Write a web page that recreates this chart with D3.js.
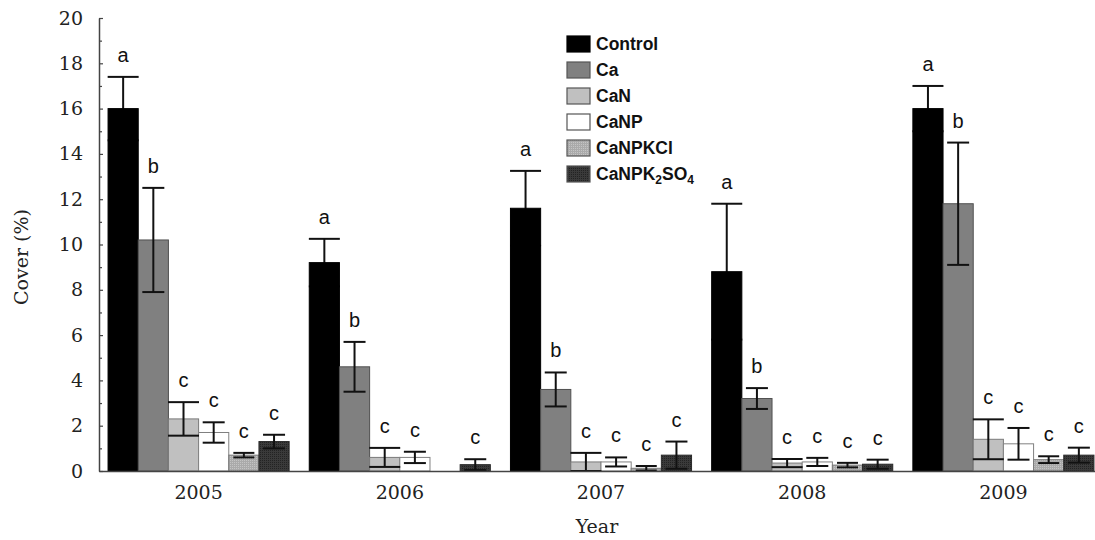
<!DOCTYPE html>
<html>
<head>
<meta charset="utf-8">
<script src="https://cdn.jsdelivr.net/npm/d3@7"></script>
<style>
  body { margin: 0; background: #fff; }
</style>
</head>
<body>
<svg width="1095" height="540"></svg>
<script>
const years = ['2005', '2006', '2007', '2008', '2009'];
const treatments = ['Control', 'Ca', 'CaN', 'CaNP', 'CaNPKCl', 'CaNPK2SO4'];

// mean cover (%) per treatment, one value per year
const control   = [16.0, 9.2, 11.6, 8.8, 16.0];
const ca        = [10.2, 4.6, 3.6, 3.2, 11.8];
const caN       = [2.3, 0.6, 0.4, 0.35, 1.4];
const caNP      = [1.7, 0.6, 0.4, 0.4, 1.2];
const caNPKCl   = [0.7, 0, 0.12, 0.26, 0.5];
const caNPK2SO4 = [1.3, 0.28, 0.7, 0.3, 0.7];

// standard errors
const errControl   = [1.4, 1.05, 1.65, 3.0, 1.0];
const errCa        = [2.3, 1.1, 0.75, 0.46, 2.7];
const errCaN       = [0.74, 0.42, 0.4, 0.18, 0.88];
const errCaNP      = [0.45, 0.25, 0.2, 0.18, 0.7];
const errCaNPKCl   = [0.1, 0, 0.1, 0.1, 0.15];
const errCaNPK2SO4 = [0.3, 0.24, 0.6, 0.2, 0.33];

// significance letters
const letControl   = ['a', 'a', 'a', 'a', 'a'];
const letCa        = ['b', 'b', 'b', 'b', 'b'];
const letCaN       = ['c', 'c', 'c', 'c', 'c'];
const letCaNP      = ['c', 'c', 'c', 'c', 'c'];
const letCaNPKCl   = ['c', '', 'c', 'c', 'c'];
const letCaNPK2SO4 = ['c', 'c', 'c', 'c', 'c'];

const yMajor = [0, 2, 4, 6, 8, 10, 12, 14, 16, 18, 20];
const yMinor = [1, 3, 5, 7, 9, 11, 13, 15, 17, 19];

const means = [control, ca, caN, caNP, caNPKCl, caNPK2SO4];
const errs = [errControl, errCa, errCaN, errCaNP, errCaNPKCl, errCaNPK2SO4];
const lets = [letControl, letCa, letCaN, letCaNP, letCaNPKCl, letCaNPK2SO4];

const fills = ['#000', '#808080', '#c0c0c0', '#fff', 'url(#dotKCl)', 'url(#dotSO4)'];
const strokes = ['#000', '#505050', '#7a7a7a', '#808080', '#7a7a7a', '#2a2a2a'];
const capW = [31, 22, 31, 22, 21, 22];

const rows = [];
years.forEach((yr, i) => {
  treatments.forEach((t, j) => {
    rows.push({ year: yr, t: t, j: j, v: means[j][i], e: errs[j][i], l: lets[j][i] });
  });
});

const svg = d3.select('svg');

const defs = svg.append('defs');
let p = defs.append('pattern').attr('id', 'dotKCl').attr('width', 2).attr('height', 2)
  .attr('patternUnits', 'userSpaceOnUse');
p.append('rect').attr('width', 2).attr('height', 2).attr('fill', '#aaaaaa');
p.append('rect').attr('width', 1).attr('height', 1).attr('fill', '#c4c4c4');
p = defs.append('pattern').attr('id', 'dotSO4').attr('width', 2).attr('height', 2)
  .attr('patternUnits', 'userSpaceOnUse');
p.append('rect').attr('width', 2).attr('height', 2).attr('fill', '#3a3a3a');
p.append('rect').attr('width', 1).attr('height', 1).attr('fill', '#232323');

const y = d3.scaleLinear().domain([0, 20]).range([471, 18]);
const x0 = d3.scaleBand().domain(years).range([99, 1103]).paddingInner(0.1).paddingOuter(0.045);
const x1 = d3.scaleBand().domain(treatments).range([0, x0.bandwidth()]);

const cx = d => x0(d.year) + x1(d.t) + x1.bandwidth() / 2;

function drawErr(g, list) {
  list.filter(d => d.e > 0).forEach(d => {
    const top = y(d.v + d.e), bot = y(Math.max(0, d.v - d.e));
    const w = capW[d.j] / 2;
    g.append('line').attr('x1', cx(d)).attr('x2', cx(d)).attr('y1', top).attr('y2', bot);
    g.append('line').attr('x1', cx(d) - w).attr('x2', cx(d) + w).attr('y1', top).attr('y2', top);
    g.append('line').attr('x1', cx(d) - w).attr('x2', cx(d) + w).attr('y1', bot).attr('y2', bot);
  });
}

// control error bars sit behind the black bars, so only the upper whisker shows
drawErr(svg.append('g').attr('stroke', '#111').attr('stroke-width', 2), rows.filter(d => d.j === 0));

// bars
svg.append('g').selectAll('rect')
  .data(rows.filter(d => d.v > 0))
  .enter().append('rect')
  .attr('x', d => x0(d.year) + x1(d.t))
  .attr('y', d => y(d.v))
  .attr('width', x1.bandwidth())
  .attr('height', d => y(0) - y(d.v))
  .attr('fill', d => fills[d.j])
  .attr('stroke', d => strokes[d.j])
  .attr('stroke-width', 1);

drawErr(svg.append('g').attr('stroke', '#111').attr('stroke-width', 2), rows.filter(d => d.j > 0));

// letters
svg.append('g').selectAll('text')
  .data(rows.filter(d => d.l))
  .enter().append('text')
  .attr('x', cx)
  .attr('y', d => y(d.v + d.e) - 15)
  .attr('text-anchor', 'middle')
  .attr('font-family', 'Liberation Sans, Arial, sans-serif')
  .attr('font-size', 20)
  .attr('fill', '#111')
  .text(d => d.l);

// axes
const serif = 'DejaVu Serif, serif';
const gy = svg.append('g').attr('transform', 'translate(99,0)')
  .call(d3.axisLeft(y).tickValues(yMajor).tickSizeInner(-4).tickSizeOuter(0).tickPadding(16));
gy.select('.domain').attr('stroke', '#444').attr('stroke-width', 1.5);
gy.selectAll('.tick line').attr('stroke', '#444').attr('stroke-width', 1.2);
gy.selectAll('text').attr('font-family', serif).attr('font-size', 19).attr('fill', '#222');

const gm = svg.append('g').attr('transform', 'translate(99,0)')
  .call(d3.axisLeft(y).tickValues(yMinor).tickSize(-3).tickFormat(''));
gm.select('.domain').remove();
gm.selectAll('.tick line').attr('stroke', '#444').attr('stroke-width', 1.2);

const gx = svg.append('g').attr('transform', `translate(0,${y(0)})`)
  .call(d3.axisBottom(x0).tickSize(0).tickPadding(15));
gx.select('.domain').attr('stroke', '#444').attr('stroke-width', 1.5);
gx.selectAll('text').attr('font-family', serif).attr('font-size', 19).attr('fill', '#222');

svg.append('text')
  .attr('transform', 'translate(28,257) rotate(-90)')
  .attr('text-anchor', 'middle')
  .attr('font-family', serif).attr('font-size', 19).attr('fill', '#222')
  .text('Cover (%)');

svg.append('text')
  .attr('x', 597).attr('y', 533)
  .attr('text-anchor', 'middle')
  .attr('font-family', serif).attr('font-size', 19).attr('fill', '#222')
  .text('Year');

// legend
const lg = svg.append('g').attr('transform', 'translate(567,36)');
treatments.forEach((t, j) => {
  const row = lg.append('g').attr('transform', `translate(0,${j * 26})`);
  row.append('rect').attr('width', 23).attr('height', 16)
    .attr('fill', fills[j]).attr('stroke', j === 0 ? '#000' : '#555').attr('stroke-width', 1.2);
  const tx = row.append('text').attr('x', 29).attr('y', 14)
    .attr('font-family', 'Liberation Sans, Arial, sans-serif')
    .attr('font-weight', 'bold').attr('font-size', 17.5).attr('fill', '#111');
  if (t === 'CaNPK2SO4') {
    tx.append('tspan').text('CaNPK');
    tx.append('tspan').attr('font-size', 12).attr('dy', 4).text('2');
    tx.append('tspan').attr('dy', -4).text('SO');
    tx.append('tspan').attr('font-size', 12).attr('dy', 4).text('4');
  } else {
    tx.text(t);
  }
});
</script>
</body>
</html>
